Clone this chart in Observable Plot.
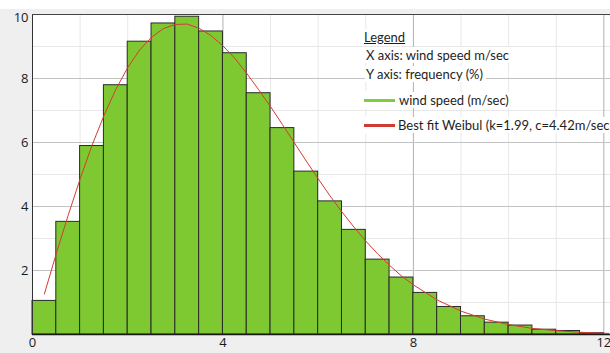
<!DOCTYPE html>
<html><head><meta charset="utf-8">
<script src="https://cdn.jsdelivr.net/npm/d3@7"></script>
<script src="https://cdn.jsdelivr.net/npm/@observablehq/plot@0.6"></script>
<style>
html,body{margin:0;padding:0;background:#fff;}
#wrap{position:relative;width:610px;height:353px;overflow:hidden;background:#fff;}
#chart svg{display:block;}
#topstrip{position:absolute;left:0;top:0;width:610px;height:9px;background:#fff;}
.leg{position:absolute;font-family:Lato,"Open Sans",sans-serif;font-size:13px;color:#1e1e1e;line-height:16px;white-space:nowrap;background:#fff;padding:0 3px 0 1px;}
.sw{position:absolute;height:3px;width:31px;}
</style></head>
<body>
<div id="wrap"><div id="topstrip"></div><div id="chart"></div><div id="legend"></div></div>
<script>
// Histogram bins (wind speed, m/sec) and frequency (%)
const binStart = [0,0.5,1,1.5,2,2.5,3,3.5,4,4.5,5,5.5,6,6.5,7,7.5,8,8.5,9,9.5,10,10.5,11,11.5];
const binEnd   = [0.5,1,1.5,2,2.5,3,3.5,4,4.5,5,5.5,6,6.5,7,7.5,8,8.5,9,9.5,10,10.5,11,11.5,12];
const frequency = [1.05,3.52,5.89,7.79,9.15,9.72,9.93,9.47,8.79,7.54,6.45,5.09,4.16,3.27,2.34,1.78,1.30,0.86,0.57,0.37,0.28,0.15,0.11,0.04];

// Best fit Weibull curve
const fitSpeed = [0.25,0.5,0.75,1,1.25,1.5,1.75,2,2.25,2.5,2.75,3,3.25,3.5,3.75,4,4.25,4.5,4.75,5,5.25,5.5,5.75,6,6.25,6.5,6.75,7,7.25,7.5,7.75,8,8.5,9,9.5,10,10.5,11,11.5,12,12.1];
const fitFrequency = [1.27,2.53,3.73,4.86,5.91,6.84,7.66,8.34,8.89,9.29,9.56,9.69,9.70,9.57,9.34,9.02,8.63,8.16,7.65,7.12,6.56,5.99,5.42,4.87,4.33,3.83,3.36,2.92,2.52,2.16,1.83,1.55,1.08,0.73,0.48,0.31,0.19,0.12,0.07,0.04,0.035];

const xMajorTicks = [0,4,8,12];
const xMinorTicks = [1,2,3,5,6,7,9,10,11];
const yMajorTicks = [2,4,6,8];
const yTopTick = [10];
const yMinorTicks = [1,3,5,7,9];

const legendTitle = "Legend";
const legendXAxis = "X axis: wind speed m/sec";
const legendYAxis = "Y axis: frequency (%)";
const seriesBars = "wind speed (m/sec)";
const seriesFit = "Best fit Weibul (k=1.99, c=4.42m/sec";

const barColor = "#7ec832";
const fitColor = "#d43c32";

const bars = binStart.map((s,i)=>({x1:s, x2:binEnd[i], y:frequency[i]}));
const fit = fitSpeed.map((s,i)=>({x:s, y:fitFrequency[i]}));

const plot = Plot.plot({
  width:610, height:353,
  marginLeft:32, marginRight:0, marginTop:14, marginBottom:19,
  style:{background:"#efefef", fontFamily:"'Open Sans', sans-serif", fontSize:"13px", color:"#1a1a1a", overflow:"visible"},
  x:{domain:[0,12.14], label:null},
  y:{domain:[0,10], label:null},
  marks:[
    Plot.frame({fill:"#fff", stroke:null}),
    Plot.ruleX(xMinorTicks, {stroke:"#e8e8e8"}),
    Plot.ruleY(yMinorTicks, {stroke:"#e8e8e8"}),
    Plot.ruleX(xMajorTicks.slice(1), {stroke:"#b0b0b0"}),
    Plot.ruleY(yMajorTicks, {stroke:"#c2c2c2"}),
    Plot.rectY(bars, {x1:"x1", x2:"x2", y:"y", fill:barColor, stroke:"#2a2a2a", strokeWidth:1}),
    Plot.line(fit, {x:"x", y:"y", stroke:fitColor, strokeWidth:1}),
    Plot.ruleY([0], {stroke:"#1a1a1a", strokeWidth:1.5}),
    Plot.ruleX([0], {stroke:"#333", strokeWidth:1}),
    Plot.ruleY([10], {stroke:"#444", strokeWidth:1.2}),
    Plot.axisX(xMajorTicks, {tickSize:0, tickPadding:3, tickFormat:d=>String(d), label:null}),
    Plot.axisY(yMajorTicks, {tickSize:0, tickPadding:4, tickFormat:d=>String(d), label:null}),
    Plot.axisY(yTopTick, {tickSize:0, tickPadding:4, dy:3, tickFormat:d=>String(d), label:null})
  ]
});
document.getElementById("chart").appendChild(plot);

// Legend overlay
const leg = document.getElementById("legend");
function addText(txt, left, centerY, extra){
  const d = document.createElement("div");
  d.className = "leg";
  d.textContent = txt;
  d.style.left = left+"px";
  d.style.top = (centerY-8)+"px";
  if (extra) Object.assign(d.style, extra);
  leg.appendChild(d);
}
function addSwatch(color, left, centerY){
  const s = document.createElement("div");
  s.className = "sw";
  s.style.background = color;
  s.style.left = left+"px";
  s.style.top = (centerY-1.5)+"px";
  leg.appendChild(s);
}
addText(legendTitle, 363, 37, {textDecoration:"underline"});
addText(legendXAxis, 365, 55);
addText(legendYAxis, 365, 74);
const bg1 = document.createElement("div"); bg1.style.cssText="position:absolute;left:362px;top:91px;width:40px;height:18px;background:#fff"; leg.appendChild(bg1);
const bg2 = document.createElement("div"); bg2.style.cssText="position:absolute;left:362px;top:116px;width:40px;height:18px;background:#fff"; leg.appendChild(bg2);
addSwatch("#7ccf3a", 364, 100);
addText(seriesBars, 398, 100);
addSwatch("#cf3b33", 364, 125);
addText(seriesFit, 397, 125);
</script>
</body></html>
